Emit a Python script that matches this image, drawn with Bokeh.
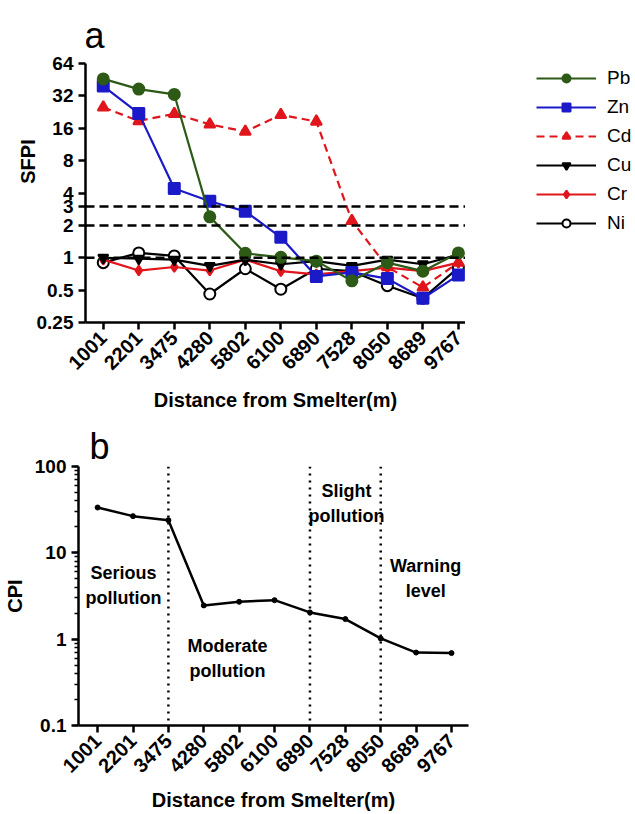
import math
from bokeh.plotting import figure
from bokeh.layouts import column, row
from bokeh.models import (Range1d, FixedTicker, LogTicker, Legend, LegendItem, Span, Title, Label,
                          CustomJSTickFormatter)
from bokeh.core.properties import value
from bokeh.embed import file_html
from bokeh.resources import INLINE

# Sampling sites (distance from the smelter, m)
distances = ["1001", "2201", "3475", "4280", "5802", "6100", "6890", "7528", "8050", "8689", "9767"]

# Single-factor pollution index per metal
pb = [46.0, 37.0, 33.0, 2.4, 1.10, 1.01, 0.93, 0.61, 0.90, 0.75, 1.11]
zn = [39.5, 22.0, 4.4, 3.35, 2.7, 1.55, 0.67, 0.73, 0.64, 0.42, 0.69]
cd = [25.0, 18.7, 21.8, 17.4, 14.9, 21.3, 18.5, 2.2, 0.82, 0.53, 0.90]
cu = [1.0, 0.98, 0.96, 0.84, 0.96, 0.87, 0.93, 0.84, 0.96, 0.87, 1.07]
cr = [0.96, 0.76, 0.82, 0.76, 0.96, 0.75, 0.70, 0.75, 0.81, 0.75, 0.90]
ni = [0.90, 1.11, 1.04, 0.46, 0.79, 0.51, 0.79, 0.75, 0.55, 0.42, 0.81]

# Comprehensive pollution index
cpi = [33.5, 26.6, 23.9, 2.46, 2.71, 2.83, 2.04, 1.71, 1.02, 0.70, 0.69]

# Threshold lines for SFPI and grade boundaries for CPI
sfpi_levels = [1, 2, 3]
sfpi_ticks = [0.25, 0.5, 1, 2, 3, 4, 8, 16, 32, 64]
grade_bounds = ["3475", "6890", "8050"]
grade_labels = ["Serious\npollution", "Moderate\npollution", "Slight\npollution", "Warning\nlevel"]
grade_label_x = [0.73, 3.67, 7.03, 9.27]
grade_label_y = [4.19, 0.60, 37.0, 4.98]

FONT = "Liberation Sans"
xs = list(range(len(distances)))
x_overrides = {i: d for i, d in enumerate(distances)}


def style_axes(p, label_standoff):
    for ax in (p.xaxis[0], p.yaxis[0]):
        ax.axis_line_width = 2.5
        ax.axis_line_color = "black"
        ax.major_tick_line_width = 2.5
        ax.major_tick_line_color = "black"
        ax.major_tick_out = 7
        ax.major_tick_in = 0
        ax.major_label_text_font = FONT
        ax.major_label_text_font_style = "bold"
        ax.major_label_text_font_size = "19px"
        ax.major_label_text_color = "black"
        ax.axis_label_text_font = FONT
        ax.axis_label_text_font_style = "bold"
        ax.axis_label_text_font_size = "20px"
        ax.axis_label_text_color = "black"
    p.xaxis[0].ticker = FixedTicker(ticks=xs)
    p.xaxis[0].major_label_overrides = x_overrides
    p.xaxis[0].major_label_orientation = math.pi / 4
    p.xaxis[0].major_label_text_font_size = "20px"
    p.xaxis[0].minor_tick_line_color = None
    p.xaxis[0].axis_label = "Distance from Smelter(m)"
    p.xaxis[0].axis_label_standoff = label_standoff
    p.xgrid.visible = False
    p.ygrid.visible = False
    p.outline_line_color = None


# ---- panel a: SFPI ----
# The frame reaches the top edge so the panel letter sits inside it;
# the value axis is bounded to the data region.
pa = figure(frame_width=380, frame_height=322, y_axis_type="log",
            x_range=Range1d(-0.5, 10.2), y_range=Range1d(0.25, 246.6),
            min_border_left=85, min_border_right=0, min_border_top=0, min_border_bottom=91,
            toolbar_location=None, output_backend="svg")
style_axes(pa, 10)
pa.yaxis[0].bounds = (0.25, 64)
pa.yaxis[0].ticker = FixedTicker(ticks=sfpi_ticks)
pa.yaxis[0].formatter = CustomJSTickFormatter(code="return String(tick);")
pa.yaxis[0].minor_tick_line_color = None
pa.yaxis[0].axis_label = "SFPI"
pa.yaxis[0].axis_label_standoff = -5

for lv in sfpi_levels:
    pa.add_layout(Span(location=lv, dimension="width", line_color="black",
                       line_width=2.5, line_dash="9 5"))

GREEN = "#2d5a16"
BLUE = "#1a1ac8"
RED = "#e0161c"

series = [
    ("Pb", pb, GREEN, "solid", "circle", 11, GREEN),
    ("Zn", zn, BLUE, "solid", "square", 11, BLUE),
    ("Cd", cd, RED, "8 5", "triangle", 11, RED),
    ("Cu", cu, "black", "solid", "inverted_triangle", 10, "black"),
    ("Cr", cr, RED, "solid", "diamond", 10, RED),
    ("Ni", ni, "black", "solid", "circle", 11, "white"),
]

for name, vals, col, dash, marker, size, fill in reversed(series):
    pa.line(xs, vals, line_color=col, line_width=2.2, line_dash=dash)
    pa.scatter(xs, vals, marker=marker, size=size, fill_color=fill,
               line_color=col, line_width=2)

pa.add_layout(Label(x=-0.5, y=116.6, x_offset=-1, text="a", text_font=FONT,
                    text_font_size="36px", text_color="black",
                    text_baseline="alphabetic"))

# ---- key beside panel a ----
# its renderers hold one point kept outside this figure's visible range
lf = figure(width=170, height=413, x_range=Range1d(0, 1), y_range=Range1d(0, 1),
            min_border=0, toolbar_location=None, output_backend="svg")
lf.axis.visible = False
lf.xgrid.visible = False
lf.ygrid.visible = False
lf.outline_line_color = None

items = []
for name, vals, col, dash, marker, size, fill in series:
    lr = lf.line(x=[-5, -4], y=[-5, -5], line_color=col, line_width=2.2, line_dash=dash)
    sr = lf.scatter(x=[-5], y=[-5], marker=marker, size=size, fill_color=fill,
                    line_color=col, line_width=2)
    items.append(LegendItem(label=name, renderers=[lr, sr]))

legend = Legend(items=items, location=(71, 88), glyph_width=60, glyph_height=20,
                spacing=7, padding=10, label_standoff=11,
                label_text_font=FONT, label_text_font_size="19px",
                label_text_color="black", background_fill_alpha=0,
                border_line_color=None)
lf.add_layout(legend)

# ---- panel b: CPI ----
pcpi = figure(frame_width=390, frame_height=259, y_axis_type="log",
              x_range=Range1d(-0.54, 10.48), y_range=Range1d(0.1, 100),
              min_border_left=77, min_border_right=168, min_border_top=53, min_border_bottom=88,
              toolbar_location=None, output_backend="svg")
pcpi.title = Title(text="b", align="left", offset=11, standoff=0,
                   text_font=FONT, text_font_size="36px", text_font_style="normal",
                   text_color="black")
style_axes(pcpi, 7)
pcpi.yaxis[0].ticker = LogTicker(desired_num_ticks=4, num_minor_ticks=10)
pcpi.yaxis[0].formatter = CustomJSTickFormatter(code="return String(tick);")
pcpi.yaxis[0].minor_tick_line_color = "black"
pcpi.yaxis[0].minor_tick_line_width = 1.5
pcpi.yaxis[0].minor_tick_out = 4
pcpi.yaxis[0].minor_tick_in = 0
pcpi.yaxis[0].axis_label = "CPI"
pcpi.yaxis[0].axis_label_standoff = 6

for b in grade_bounds:
    pcpi.add_layout(Span(location=distances.index(b), dimension="height",
                         line_color="black", line_width=2.5, line_dash="2 5"))

pcpi.line(xs, cpi, line_color="black", line_width=2.5)
pcpi.scatter(xs, cpi, marker="circle", size=5, fill_color="black", line_color="black")

pcpi.text(x=grade_label_x, y=grade_label_y, text=grade_labels,
          text_align="center", text_baseline="middle", text_font=value(FONT),
          text_font_style="bold", text_font_size="18px", text_color="black",
          text_line_height=1.25)

layout = column(row(pa, lf, spacing=0), pcpi, spacing=0)
open("out.html", "w").write(file_html(layout, INLINE))
